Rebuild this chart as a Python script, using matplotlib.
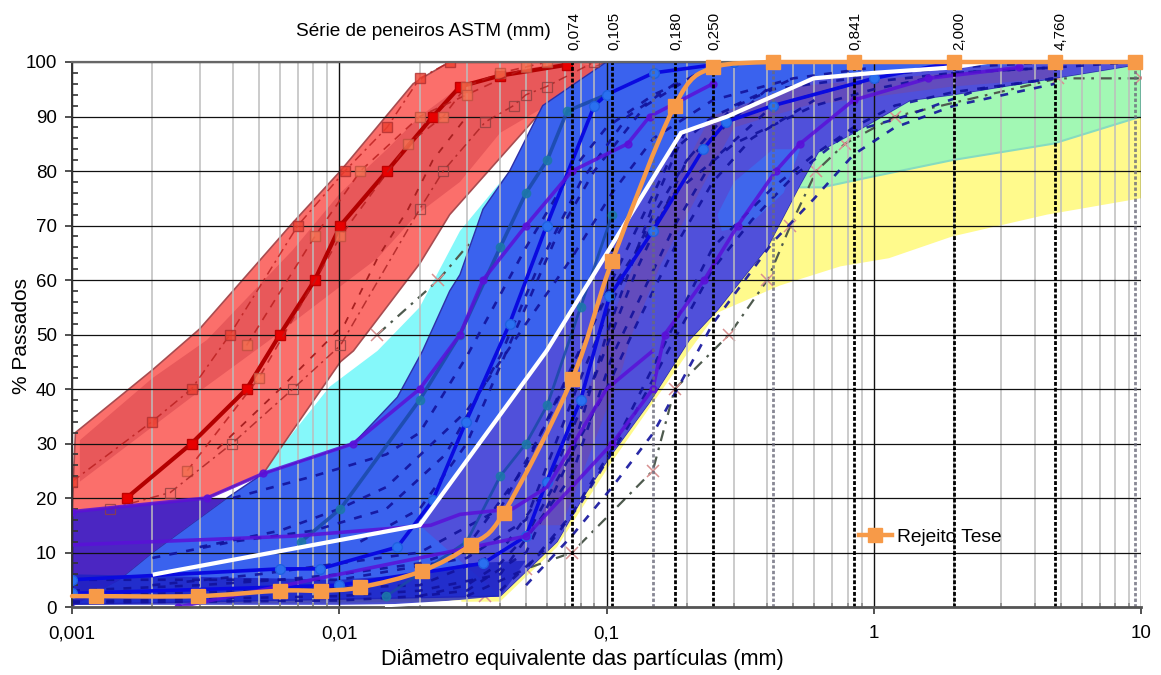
import numpy as np
import matplotlib
matplotlib.use("Agg")
import matplotlib.pyplot as plt
from matplotlib.path import Path
from matplotlib.patches import PathPatch
from matplotlib.lines import Line2D
from matplotlib.ticker import FixedLocator, NullFormatter, FuncFormatter

plt.rcParams['font.family'] = ['Liberation Sans', 'DejaVu Sans']

# ---------- data (mm, % passing) ----------
orange_x = [0.00123, 0.00296, 0.0060, 0.00855, 0.01196, 0.0204, 0.0311, 0.0413, 0.0743, 0.105, 0.18, 0.25, 0.42, 0.841, 2.0, 4.76, 9.5]
orange_y = [2, 2, 3, 3, 3.6, 6.6, 11.4, 17.3, 41.8, 63.5, 92, 99, 100, 100, 100, 100, 100]

white_x = [0.00204, 0.02, 0.0597, 0.105, 0.19, 0.283, 0.595, 0.995, 1.97, 2.65]
white_y = [6, 15, 47, 66.5, 87, 90, 97, 98, 99, 100]
white2_x = [0.015, 0.0283]
white2_y = [0.2, 1]

red_up_x = [0.001, 0.00103, 0.002, 0.003, 0.0067, 0.0101, 0.0189, 0.0213, 0.0259, 0.1]
red_up_y = [17.5, 32, 43.5, 51, 70.5, 80, 96, 97.6, 100, 100]
red_lo_x = [0.001, 0.0032, 0.0052, 0.006, 0.0101, 0.0113, 0.02, 0.0259, 0.0549, 0.0713, 0.1]
red_lo_y = [17.5, 20, 24.5, 29, 45, 47, 63, 72, 90, 97, 100]
red_dk_up_x = [0.00107, 0.002, 0.0032, 0.0067, 0.0101, 0.0151, 0.02, 0.0283, 0.04, 0.0713]
red_dk_up_y = [30.6, 42, 49, 65.5, 76, 84, 90, 95.5, 98, 100]
red_dk_lo_x = [0.00107, 0.0028, 0.0055, 0.0139, 0.0195, 0.0283, 0.04, 0.0597, 0.0813, 0.1]
red_dk_lo_y = [23, 38.5, 49, 64, 72, 78, 87, 92, 96, 99]

cyan_up_x = [0.0052, 0.006, 0.0092, 0.0139, 0.02, 0.0283, 0.0434, 0.0517]
cyan_up_y = [24.5, 29, 40.4, 47, 55, 69, 80, 88]

blue_up_x = [0.0015, 0.002, 0.0038, 0.0052, 0.0113, 0.0165, 0.0205, 0.0259, 0.0283, 0.0345, 0.0434, 0.0577, 0.0813, 0.1, 10]
blue_up_y = [5, 10, 20, 24.5, 30, 38.5, 47, 58, 61, 73, 80, 92, 97, 100, 100]
blue_lo_x = [0.001, 0.04, 0.0653, 0.0813, 0.1026, 0.1445, 0.204, 0.26, 0.40, 0.53, 0.62, 0.84, 1.37, 1.97, 4.68, 9.6, 10]
blue_lo_y = [0.5, 2, 12, 20, 27.5, 37.5, 49, 54.5, 66, 77.5, 83.5, 87, 93, 94, 97, 99.5, 100]

purple_band_x = [0.001, 0.0032, 0.0038, 0.002, 0.0015, 0.001]
purple_band_y = [17.5, 20, 20, 10, 5, 0]

lobe_x = [0.26, 0.30, 0.42, 0.53, 0.46, 0.34, 0.27]
lobe_y = [72, 78, 84, 84, 76, 70, 69]

stripe_up_x = [0.055, 0.064, 0.092, 0.097, 0.127, 0.245, 0.5, 1.97, 4.7]
stripe_up_y = [15, 23, 44, 49, 63, 90, 95.5, 98, 99]
stripe_lo_x = [0.068, 0.079, 0.115, 0.122, 0.16, 0.30, 0.56, 1.97, 4.7]
stripe_lo_y = [15, 23, 44, 49, 63, 88, 92, 95.5, 97]

bottom_x = [0.001, 0.01, 0.02, 0.03, 0.05, 0.04, 0.02, 0.01, 0.001]
bottom_y = [6, 5, 6, 8, 8.5, 2, 0.6, 0.4, 0.4]

green_lo_x = [0.52, 0.64, 0.995, 1.97, 4.68, 10]
green_lo_y = [77, 77, 79, 82, 85, 90]
yellow_lo_x = [0.04, 0.0653, 0.1026, 0.204, 0.26, 0.446, 0.75, 1.14, 1.97, 4.45, 10]
yellow_lo_y = [1, 11, 26, 47, 54, 59, 62.5, 64, 68, 72, 75]

red_thick_x = [0.0016, 0.0028, 0.0045, 0.006, 0.0081, 0.0101, 0.0151, 0.0224, 0.0283, 0.04, 0.0713]
red_thick_y = [20, 30, 40, 50, 60, 70, 80, 90, 95.5, 97.5, 99.5]
red_a_x = [0.001, 0.00199, 0.0028, 0.0039, 0.007, 0.0105, 0.0151, 0.02, 0.0259]
red_a_y = [23, 34, 40, 50, 70, 80, 88, 97, 100]
red_b_x = [0.0027, 0.005, 0.0101, 0.0181, 0.0245, 0.0298, 0.04, 0.06]
red_b_y = [25, 42, 68, 85, 90, 95.5, 98, 100]
red_e_x = [0.0045, 0.0081, 0.012, 0.02, 0.03, 0.05]
red_e_y = [48, 68, 80, 90, 94, 99]
red_c_x = [0.00139, 0.00233, 0.00397, 0.0067, 0.0101, 0.02, 0.0245, 0.0352, 0.0449, 0.05, 0.0597, 0.09]
red_c_y = [18, 21, 30, 40, 48, 73, 80, 89, 92, 94, 95.5, 100]
red_d_x = [0.0035, 0.006, 0.0105, 0.0139, 0.0181, 0.0224, 0.03]
red_d_y = [29, 40, 52, 64, 73, 82, 90]

blue1_x = [0.001, 0.006, 0.0085, 0.0165, 0.0224, 0.0298, 0.0434, 0.0597, 0.09, 0.1, 0.15, 0.3]
blue1_y = [5, 7, 7, 11, 19.6, 34, 52, 70, 92, 94, 98, 100]
blue2_x = [0.001, 0.01, 0.0345, 0.05, 0.0597, 0.08, 0.1026, 0.149, 0.23, 0.28, 0.42, 1.0, 2.0]
blue2_y = [2.5, 4, 8, 13, 23, 38, 57, 69, 84, 89, 92, 97, 100]
teal_x = [0.0072, 0.0101, 0.02, 0.0283, 0.04, 0.05, 0.06, 0.0713, 0.1]
teal_y = [12, 18, 38, 50, 66, 76, 82, 91, 94]
teal2_x = [0.015, 0.03, 0.04, 0.05, 0.06, 0.08, 0.105]
teal2_y = [2, 12, 24, 30, 37, 55, 72]
purple1_x = [0.001, 0.0032, 0.0052, 0.0113, 0.02, 0.0283, 0.0345, 0.05, 0.0743, 0.12, 0.145, 0.25]
purple1_y = [17.5, 20, 24.5, 30, 40, 50, 60, 70, 80, 85, 90, 96]
purple2_x = [0.0025, 0.05, 0.105, 0.149, 0.165, 0.232, 0.31, 0.43, 0.53, 0.84, 1.6, 3.5]
purple2_y = [0, 13, 30, 40, 50, 60, 70, 80, 85, 93, 97, 99]
purple3_x = [0.001, 0.0067, 0.022, 0.0283, 0.0445, 0.06, 0.1, 0.149]
purple3_y = [11.4, 13, 15, 17, 18, 22, 40, 47]

navy_sets = [
    ([.001, .003, .01, .02, .04, .074, .105, .18, .25, .42, .84, 2, 4.76, 9.5], [1, 1.5, 2, 3, 6, 24, 46, 70, 82, 92, 96, 98, 99, 100]),
    ([.001, .003, .006, .01, .02, .03, .05, .074, .105, .18, .25, .42, .84, 2, 4.76], [3, 4, 5, 6, 8, 11, 26, 44, 60, 84, 90, 95, 97, 99, 100]),
    ([.002, .005, .01, .02, .04, .06, .1, .18, .3, .6, 1, 2, 4.76], [4, 6, 8, 10, 18, 34, 57, 76, 85, 92, 95, 98, 99]),
    ([.003, .006, .01, .015, .03, .05, .074, .105, .15, .25, .5, 1], [11, 14, 18, 22, 36, 52, 64, 76, 86, 93, 97, 99]),
    ([.03, .05, .074, .105, .18, .25, .42, .6, .84, 1.2, 2, 4.76], [2, 7, 17, 29, 52, 66, 77, 83, 88, 92, 94.5, 97]),
    ([.05, .074, .105, .15, .25, .42, .6, .84, 1.2, 2, 4.76], [4, 13, 22, 32, 52, 67, 75, 83, 88, 92, 96]),
    ([.004, .008, .015, .02, .03, .05, .074, .1, .15, .25], [20, 24, 28, 32, 46, 66, 80, 88, 94, 99]),
    ([.001, .01, .03, .05, .06, .08, .105, .15, .2, .42], [5, 5, 9, 16, 26, 42, 56, 72, 82, 96]),
    ([.001, .01, .02, .03, .05, .074, .1, .15, .2], [0.8, 1.2, 2, 3, 10, 28, 50, 74, 88]),
    ([.001, .005, .02, .04, .06, .09, .13, .2, .3, .5], [2, 3, 4, 10, 22, 42, 62, 82, 92, 97]),
    ([.02, .03, .04, .05, .07, .1, .13, .18, .25, .35, .6], [2, 4, 8, 13, 26, 40, 52, 66, 78, 86, 93]),
    ([.04, .06, .08, .12, .17, .25, .35, .5, .8, 1.3, 2.5, 4.7], [3, 11, 19, 33, 47, 62, 71, 79, 87, 90, 95, 97]),
    ([.002, .004, .008, .015, .025, .04, .055, .08, .12, .18], [9, 12, 14, 18, 28, 46, 62, 78, 90, 96]),
    ([.012, .02, .03, .045, .065, .09, .14, .22], [12, 18, 30, 50, 68, 80, 92, 98]),
]

star_a_x = [0.0139, 0.0235, 0.035, 0.05]
star_a_y = [50, 60, 70, 80]
star_b_x = [0.035, 0.05, 0.0743, 0.149, 0.18, 0.288, 0.40, 0.488, 0.61, 0.78, 1.2, 4.9, 10]
star_b_y = [2, 7, 10, 25, 40, 50, 60, 70, 80, 85, 90, 97, 97]

sieve_solid = [0.074, 0.105, 0.180, 0.250, 0.841, 2.0, 4.76]
sieve_grey = [0.149, 0.42, 9.52]
top_pos = [0.0745, 0.105, 0.180, 0.250, 0.841, 2.06, 4.9]
top_labels = ['0,074', '0,105', '0,180', '0,250', '0,841', '2,000', '4,760']

# ---------- figure ----------
W, H = 1161, 675
fig = plt.figure(figsize=(W / 100, H / 100), dpi=100)
ax = fig.add_axes([72 / W, 1 - 607 / H, (1141 - 72) / W, (607 - 62) / H])
ax.set_xscale('log')
ax.set_xlim(0.001, 10)
ax.set_ylim(0, 100)

def band(xu, yu, xl, yl, color, z=1.0, ec='none', lw=0, alpha=1.0):
    ax.fill(list(xu) + list(xl)[::-1], list(yu) + list(yl)[::-1], fc=color, ec=ec, lw=lw, zorder=z, alpha=alpha)

# bands
band(blue_lo_x, blue_lo_y, yellow_lo_x, yellow_lo_y, '#FFFA8C', z=1.0)
band(blue_lo_x[9:], blue_lo_y[9:], green_lo_x, green_lo_y, '#A2F8B4', z=1.1, ec='#86dcc0', lw=1.5)
band(cyan_up_x, cyan_up_y, blue_up_x[3:11], blue_up_y[3:11], '#85F8FA', z=1.2)
band(red_up_x, red_up_y, red_lo_x, red_lo_y, '#FB6F6B', z=1.3, ec='#a84c50', lw=1.2)
band(red_dk_up_x, red_dk_up_y, red_dk_lo_x, red_dk_lo_y, '#E8585A', z=1.35)
band(blue_up_x, blue_up_y, blue_lo_x, blue_lo_y, '#3A62EE', z=1.4, ec='#2d2fa8', lw=1.0)
ax.fill(purple_band_x, purple_band_y, fc='#4B26C2', zorder=1.45)
slate_x = white_x[1:-1] + [4.0, 9.6] + blue_lo_x[::-1][1:-1]
slate_y = white_y[1:-1] + [99.6, 99.6] + blue_lo_y[::-1][1:-1]
ax.fill(slate_x, slate_y, fc='#5050DA', zorder=1.5)
ax.fill(lobe_x, lobe_y, fc='#3F66EC', zorder=1.55)
band(stripe_up_x, stripe_up_y, stripe_lo_x, stripe_lo_y, '#6E4AAE', z=1.6, alpha=0.65)
ax.fill(bottom_x, bottom_y, fc='#1C22C4', alpha=0.8, zorder=1.65)

# pink-star dash-dot curves (under the blue band)
for xs, ys in ((star_a_x, star_a_y), (star_b_x, star_b_y)):
    ax.plot(xs, ys, color='#4E5A4E', lw=1.6, ls=(0, (5, 3, 1.2, 3)), zorder=1.38)
    ax.plot(xs, ys, ls='none', marker='x', ms=8, mec='#D89090', mew=1.1, zorder=1.39)

# grid
minor = [m * 10.0 ** e for e in range(-3, 1) for m in range(2, 10)]
ax.xaxis.set_major_locator(FixedLocator([0.001, 0.01, 0.1, 1, 10]))
ax.xaxis.set_minor_locator(FixedLocator(minor))
ax.xaxis.set_minor_formatter(NullFormatter())
ax.xaxis.set_major_formatter(FuncFormatter(lambda v, p: f'{v:g}'.replace('.', ',')))
ax.yaxis.set_major_locator(FixedLocator(range(0, 101, 10)))
ax.yaxis.set_minor_locator(FixedLocator(range(0, 101, 2)))
ax.yaxis.set_minor_formatter(NullFormatter())
ax.set_axisbelow(False)
ax.grid(True, which='minor', axis='x', color='#BDBDBD', lw=1.1)
ax.grid(True, which='major', axis='x', color='#111111', lw=1.0)
ax.grid(True, which='major', axis='y', color='#111111', lw=0.9)
for axis in (ax.xaxis, ax.yaxis):
    axis.set_zorder(2.1)
ax.tick_params(axis='both', which='major', length=5, width=1.2, color='#333333', labelsize=13.5)
ax.tick_params(axis='y', which='major', pad=6)
ax.tick_params(axis='x', which='major', pad=8)
ax.tick_params(axis='y', which='minor', direction='in', length=4, width=1.2, color='#333333')
ax.tick_params(axis='x', which='minor', direction='in', length=3, width=1.2, color='#888888')

# red curves
ax.plot(red_thick_x, red_thick_y, color='#B30000', lw=3, marker='s', ms=6.5, mfc='#E80000', mec='#C00000', zorder=3)
ax.plot(red_a_x, red_a_y, color='#B81C1C', lw=1.1, ls=(0, (6, 3, 1.5, 3)), marker='s', ms=6.5, mfc='#EE4030', mec='#B03030', alpha=0.8, zorder=3)
ax.plot(red_b_x, red_b_y, color='#B81C1C', lw=1.2, ls=(0, (5, 4)), marker='s', ms=6.5, mfc='#F47050', mec='#C05040', alpha=0.8, zorder=3)
ax.plot(red_e_x, red_e_y, color='#B81C1C', lw=1.2, ls=(0, (5, 4)), marker='s', ms=6.5, mfc='#F47050', mec='#C05040', alpha=0.8, zorder=3)
ax.plot(red_c_x, red_c_y, color='#A82020', lw=1.1, ls=(0, (6, 3, 1.5, 3)), marker='s', ms=6.5, mfc='none', mec='#904040', mew=0.9, alpha=0.8, zorder=3)
ax.plot(red_d_x, red_d_y, color='#A82020', lw=1.3, ls=(0, (4, 5)), zorder=3)

# blue/purple curves
for xs, ys in navy_sets:
    ax.plot(xs, ys, color='#12129C', lw=1.9, ls=(0, (3, 3.5)), alpha=0.9, zorder=3.1)
ax.plot(teal_x, teal_y, color='#1A4AA8', lw=2.6, marker='o', ms=6, mfc='#1C78A8', mec='#1C78A8', alpha=0.85, zorder=3.2)
ax.plot(teal2_x, teal2_y, color='#1A4AA8', lw=2, marker='o', ms=6, mfc='#1C78A8', mec='#1C78A8', alpha=0.85, zorder=3.2)
ax.plot(blue1_x, blue1_y, color='#0A0AE0', lw=2.6, marker='o', ms=7, mfc='#2A70F0', mec='#2060E0', zorder=3.3)
ax.plot(blue2_x, blue2_y, color='#0A0AE0', lw=2.6, marker='o', ms=7, mfc='#2A70F0', mec='#2060E0', zorder=3.3)
ax.plot(purple1_x, purple1_y, color='#5A10D8', lw=2.6, marker='o', ms=5, alpha=0.85, zorder=3.4)
ax.plot(purple2_x, purple2_y, color='#5A10D8', lw=2.6, marker='o', ms=5, alpha=0.85, zorder=3.4)
ax.plot(purple3_x, purple3_y, color='#5A10D8', lw=2.6, alpha=0.85, zorder=3.4)

# sieve lines
for sx in sieve_solid:
    ax.plot([sx, sx], [0, 100], color='black', lw=2, ls=(0, (1.4, 0.7)), zorder=3.6)
for sx in sieve_grey:
    ax.plot([sx, sx], [0, 100], color='#6A6A7A', lw=2, ls=(0, (1.2, 0.8)), alpha=0.8, zorder=3.55)

# white lines
ax.plot(white_x, white_y, color='white', lw=3, zorder=4, solid_joinstyle='miter')
ax.plot(white2_x, white2_y, color='white', lw=2, zorder=4)

# orange smooth curve (Excel-like smoothing through the read points)
lx = np.log10(orange_x)
ly = np.array(orange_y, float)
verts = [(0.001, 2.0), (orange_x[0], ly[0])]
codes = [Path.MOVETO, Path.LINETO]
for i in range(len(lx) - 1):
    x0, x1 = lx[i], lx[i + 1]
    px = lx[i - 1] if i > 0 else x0
    py = ly[i - 1] if i > 0 else ly[i]
    nx = lx[i + 2] if i + 2 < len(lx) else x1
    ny = ly[i + 2] if i + 2 < len(lx) else ly[i + 1]
    c1 = (x0 + (x1 - px) / 6, min(ly[i] + (ly[i + 1] - py) / 6, 100))
    c2 = (x1 - (nx - x0) / 6, min(ly[i + 1] - (ny - ly[i]) / 6, 100))
    verts += [(10 ** c1[0], c1[1]), (10 ** c2[0], c2[1]), (10 ** x1, ly[i + 1])]
    codes += [Path.CURVE4] * 3
ORANGE = '#F79A48'
ax.add_patch(PathPatch(Path(verts, codes), fc='none', ec=ORANGE, lw=3.2, zorder=5, clip_on=False, capstyle='round'))
ax.plot(orange_x, orange_y, ls='none', marker='s', ms=9.5, color=ORANGE, mec=ORANGE, zorder=5.1, clip_on=False)

# spines
ax.spines['right'].set_visible(False)
ax.spines['left'].set_color('#333333'); ax.spines['left'].set_linewidth(1.4)
ax.spines['top'].set_color('#666666'); ax.spines['top'].set_linewidth(1.6)
ax.spines['bottom'].set_color('#555555'); ax.spines['bottom'].set_linewidth(2)
for s in ax.spines.values():
    s.set_zorder(3.7)

# text
fig.text(582 / W, 1 - 659 / H, 'Diâmetro equivalente das partículas (mm)', fontsize=15.7, ha='center', va='center')
fig.text(22 / W, 1 - 336 / H, '% Passados', fontsize=15, rotation=90, ha='center', va='center')
fig.text(296 / W, 1 - 31 / H, 'Série de peneiros ASTM (mm)', fontsize=13.7, ha='left', va='center')
for p, t in zip(top_pos, top_labels):
    ax.annotate(t, (p, 100), xytext=(2, 12), textcoords='offset pixels', rotation=90,
                ha='center', va='bottom', fontsize=11, annotation_clip=False)

h = Line2D([], [], color=ORANGE, lw=3.2, marker='s', ms=9.5, mec=ORANGE)
leg = ax.legend([h], ['Rejeito Tese'], frameon=False, fontsize=13.8, handlelength=1.7, handletextpad=0.3,
                loc='center left', bbox_to_anchor=((859 - 72) / (1141 - 72), (607 - 537) / (607 - 62)), borderaxespad=0, borderpad=0)
leg.set_zorder(6)

fig.savefig('out.png', dpi=100)
